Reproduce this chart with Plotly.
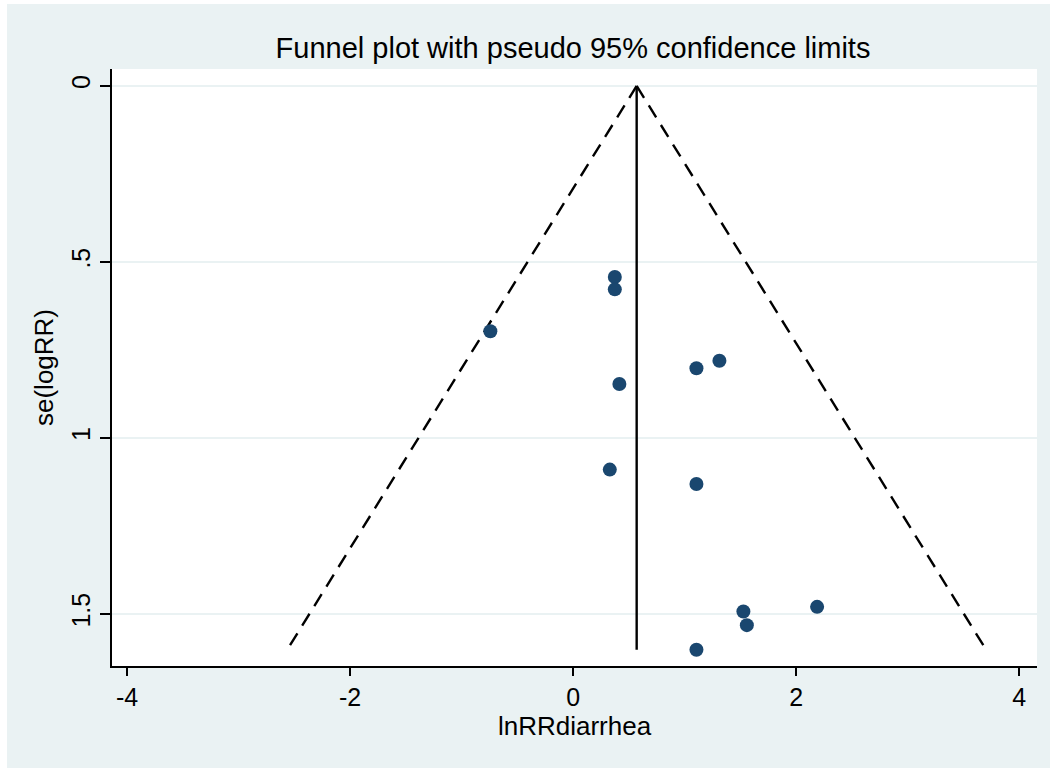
import plotly.graph_objects as go

# Study estimates (log RR) and standard errors
ln_rr = [0.374, 0.374, -0.742, 1.312, 1.106, 0.415, 0.329, 1.106, 2.188, 1.527, 1.558, 1.106]
se_ln_rr = [0.543, 0.578, 0.697, 0.781, 0.802, 0.847, 1.090, 1.131, 1.480, 1.493, 1.532, 1.602]

# Pooled estimate line and pseudo 95% confidence limits
pooled_x = [0.57, 0.57]
pooled_y = [0.0, 1.602]
lower_x = [0.57, -2.56]
lower_y = [0.0, 1.60]
upper_x = [0.57, 3.70]
upper_y = [0.0, 1.60]

y_tickvals = [0, 0.5, 1, 1.5]
y_ticktext = ["0", ".5", "1", "1.5"]
x_tickvals = [-4, -2, 0, 2, 4]
x_ticktext = ["-4", "-2", "0", "2", "4"]

FONT = "Liberation Sans, Arial, sans-serif"
BG = "#EAF2F3"

fig = go.Figure()
fig.add_trace(go.Scatter(x=lower_x, y=lower_y, mode="lines",
                         line=dict(color="black", width=2.4, dash="14px,9px"),
                         hoverinfo="skip", showlegend=False))
fig.add_trace(go.Scatter(x=upper_x, y=upper_y, mode="lines",
                         line=dict(color="black", width=2.4, dash="14px,9px"),
                         hoverinfo="skip", showlegend=False))
fig.add_trace(go.Scatter(x=pooled_x, y=pooled_y, mode="lines",
                         line=dict(color="black", width=2.4),
                         hoverinfo="skip", showlegend=False))
fig.add_trace(go.Scatter(x=ln_rr, y=se_ln_rr, mode="markers",
                         marker=dict(color="#1A476F", size=14, line=dict(width=0)),
                         showlegend=False))

# white strips at the left and top edge of the picture
fig.add_shape(type="rect", xref="paper", yref="paper", x0=-0.1211, x1=-0.1135, y0=-0.2, y1=1.2,
              fillcolor="white", line=dict(width=0), layer="below")
fig.add_shape(type="rect", xref="paper", yref="paper", x0=-0.2, x1=1.2, y0=1.1089, y1=1.2,
              fillcolor="white", line=dict(width=0), layer="below")

fig.update_layout(
    width=1050, height=768,
    margin=dict(l=112, r=13, t=69, b=102),
    paper_bgcolor=BG, plot_bgcolor="white",
    font=dict(family=FONT, color="black", size=24),
    title=dict(text="Funnel plot with pseudo 95% confidence limits",
               x=(573) / 1050, xanchor="center", y=1 - 48 / 768, yanchor="middle",
               font=dict(size=29, family=FONT)),
    xaxis=dict(range=[-4.135, 4.16], tickvals=x_tickvals, ticktext=x_ticktext,
               showgrid=False, zeroline=False, showline=True, linecolor="black", linewidth=1.5,
               ticks="outside", ticklen=8, tickwidth=1.5, tickcolor="black",
               tickfont=dict(size=25),
               title=dict(text="lnRRdiarrhea", font=dict(size=26), standoff=2)),
    yaxis=dict(range=[1.648, -0.048], tickvals=y_tickvals, ticktext=y_ticktext,
               showgrid=True, gridcolor=BG, gridwidth=1.5, zeroline=False,
               showline=True, linecolor="black", linewidth=1.5,
               ticks="outside", ticklen=10, tickwidth=1.5, tickcolor="black",
               tickangle=-90, tickfont=dict(size=25),
               title=dict(text="se(logRR)", font=dict(size=26), standoff=6)),
)

fig.write_html("out.html")
